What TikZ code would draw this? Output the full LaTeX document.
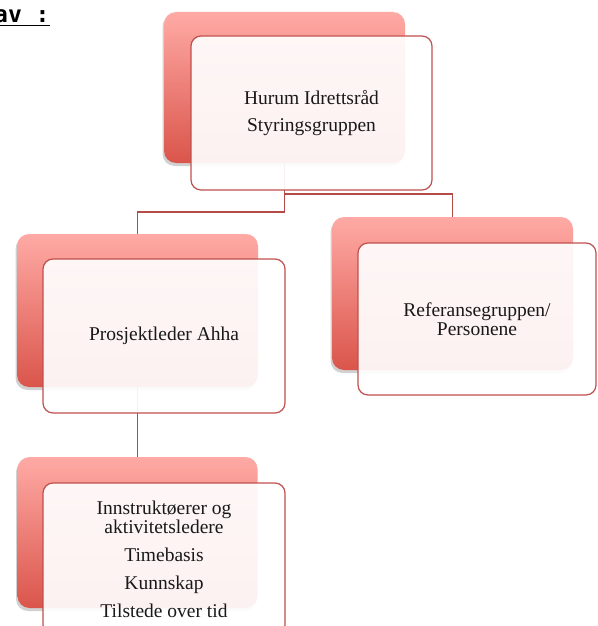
\documentclass[tikz,border=0pt]{standalone}
\usepackage{fontspec}
\setmainfont{Liberation Serif}
\newfontfamily\headmono{DejaVu Sans Mono}
\usetikzlibrary{calc,shadows}
\definecolor{edgered}{RGB}{192,80,77}
\definecolor{linered}{RGB}{180,75,70}
\definecolor{backtop}{RGB}{255,170,165}
\definecolor{backbot}{RGB}{218,85,75}
\tikzset{
  backbox/.style={rectangle, rounded corners=12pt, inner sep=0pt, outer sep=0pt,
    top color=backtop, bottom color=backbot, draw=none,
    drop shadow={shadow xshift=-1.5pt, shadow yshift=-3pt, opacity=0.3, fill=black!60}},
  frontbox/.style={rectangle, rounded corners=10pt, inner sep=0pt, outer sep=0pt,
    draw=edgered, line width=1.2pt, fill=white, fill opacity=0.92, text opacity=1,
    align=center, font=\fontsize{19.5}{19}\selectfont, text=black!90},
  conn/.style={draw=linered, line width=1.5pt}
}
\begin{document}
\begin{tikzpicture}[x=1pt,y=-1pt]
\useasboundingbox (0,0) rectangle (597,626);
\clip (0,0) rectangle (597,626);
% heading fragment
\node[anchor=base west, inner sep=0pt, font=\headmono\bfseries\fontsize{23}{26}\selectfont] (head) at (-6,23) {\underline{av :}};
% back boxes
\node[backbox, minimum width=241pt, minimum height=151pt] (topback) at (284.5,87.5) {};
\node[backbox, minimum width=241pt, minimum height=153pt] (leftback) at (137.5,310.5) {};
\node[backbox, minimum width=241pt, minimum height=153pt] (rightback) at (452.5,293.5) {};
\node[backbox, minimum width=240pt, minimum height=151pt] (bottomback) at (137.5,532.5) {};
% connectors
\draw[conn] (topback.south) |- ($(leftback.north)+(0,-22)$) -| (leftback.north);
\draw[conn] (topback.south) |- ($(rightback.north)+(0,-23)$) -| (rightback.north);
\draw[conn] (leftback.south) -- (bottomback.north);
% front boxes
\node[frontbox, minimum width=241pt, minimum height=154pt] (topfront) at (311.5,113)
  {Hurum Idrettsråd\\[8pt]Styringsgruppen};
\node[frontbox, minimum width=242pt, minimum height=154pt] (leftfront) at (164,336)
  {Prosjektleder Ahha};
\node[frontbox, minimum width=238pt, minimum height=152pt] (rightfront) at (477,319)
  {Referansegruppen/\\Personene};
\node[frontbox, minimum width=242pt, minimum height=152pt] (bottomfront) at (164,559)
  {Innstruktøerer og\\aktivitetsledere\\[9pt]Timebasis\\[9pt]Kunnskap\\[9pt]Tilstede over tid};
\end{tikzpicture}
\end{document}
